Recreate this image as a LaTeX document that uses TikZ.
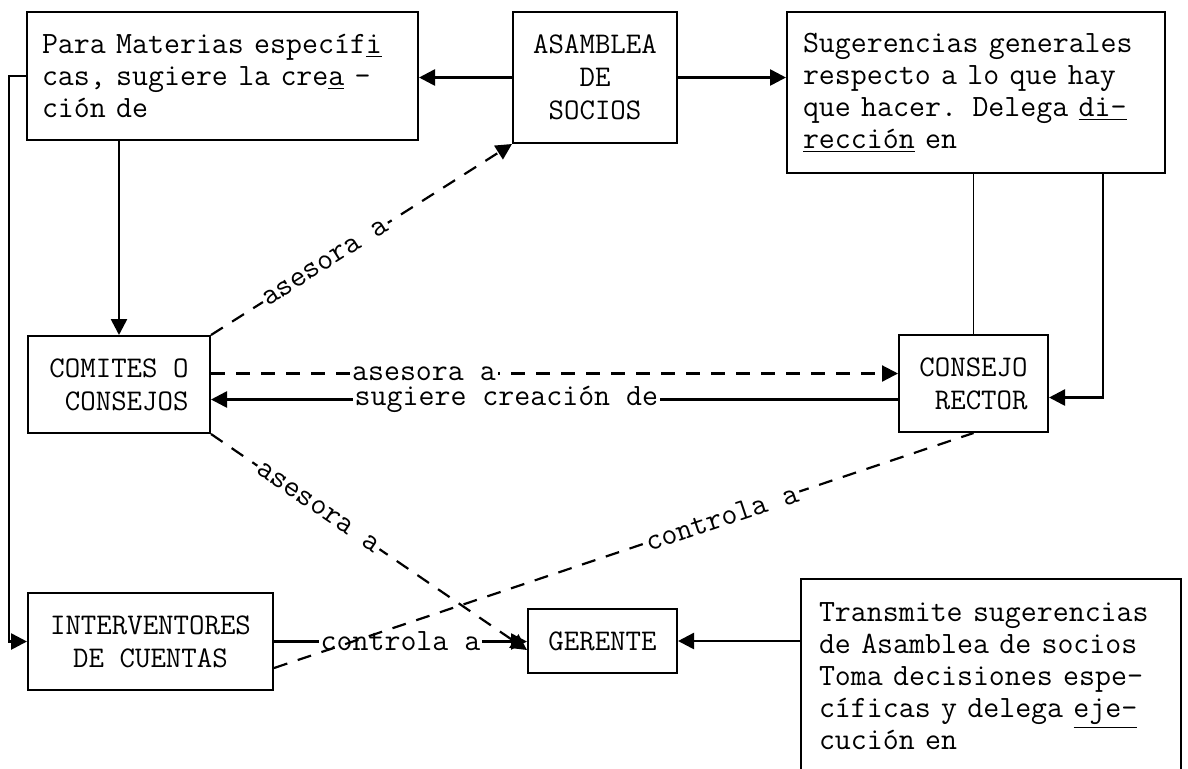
\documentclass[tikz,border=0pt]{standalone}
\usepackage{fontspec}
\usetikzlibrary{arrows.meta}

\begin{document}
\begin{tikzpicture}[x=0.5pt, y=-0.5pt]

        \def\d{7.5pt}

        % Boxes, arrows and the texts on the connectors
        \tikzset{
            caja/.style={draw, line width=1pt, inner sep=0pt,
                font=\ttfamily\fontsize{15}{16.5}\selectfont},
            texto/.style={caja, align=left, inner xsep=\d,
                font=\ttfamily\fontsize{15.5}{16}\selectfont},
            punta/.style={-{Triangle[length=8pt,width=8pt]}},
            flecha/.style={punta, line width=1.3pt},
            punteada/.style={line width=1.1pt, dash pattern=on 7pt off 5.5pt},
            etiqueta/.style={fill=white, inner sep=1pt,
                font=\ttfamily\fontsize{15.5}{16}\selectfont}
        }

        \useasboundingbox (0,0) rectangle (1188,768);
        \clip (0,0) rectangle (1188,768);

        % The boxes
        \begin{scope}
            \node[texto, text width=180.5pt, minimum height=64pt] (PM) at (222.5,76)
            {Para Materias específ\underline{i}\\
             cas, sugiere la cre\underline{a} -\\
             ción de};
            \node[caja, align=center, minimum width=82pt, minimum height=65.5pt] (AS) at (595,77.5)
            {ASAMBLEA\\DE\\SOCIOS};
            \node[texto, text width=173pt, inner xsep=8pt, minimum height=80.5pt] (SG) at (976,92.5)
            {Sugerencias generales\\
             respecto a lo que hay\\
             que hacer. Delega \underline{di-}\\
             \underline{rección} en};
            \node[caja, align=right, minimum width=91pt, minimum height=48.5pt] (CC) at (119,384.5)
            {COMITES O\\CONSEJOS};
            \node[caja, align=right, minimum width=74.5pt, minimum height=48.5pt] (CR) at (973.5,383.5)
            {CONSEJO\\RECTOR};
            \node[caja, align=center, minimum width=122.5pt, minimum height=48.5pt] (IC) at (150.5,641.5)
            {INTERVENTORES\\DE CUENTAS};
            \node[caja, minimum width=74.5pt, minimum height=32pt] (GR) at (602.5,641)
            {GERENTE};
            \node[texto, anchor=north west, text width=172pt, inner xsep=9pt, inner ysep=12pt] (TS) at (800,578)
            {Transmite sugerencias\\
             de Asamblea de socios\\
             Toma decisiones espe-\\
             cíficas y delega \underline{eje-}\\
             cución en\\[40pt]\mbox{}};
        \end{scope}

        % Solid connectors
        \begin{scope}
            \draw[flecha] (AS.west) -- (AS.west -| PM.east);
            \draw[flecha] (AS.east) -- (AS.east -| SG.west);
            \draw[flecha] (PM.south -| CC.north) -- (CC.north);
            \draw[flecha] (PM.west) -- ++(-17,0) |- (IC.west);
            \draw[line width=0.6pt] (CR.north |- SG.south) -- (CR.north);
            \draw[flecha] (SG.south -| 1103,0) |- ([yshift=-7pt]CR.east);
            \draw[flecha] ([yshift=-8pt]CR.west) -- ([yshift=-8pt]CR.west -| CC.east)
                node[etiqueta, pos=0.57] {sugiere creación de};
            \draw[flecha] (IC.east) -- (IC.east -| GR.west)
                node[etiqueta, pos=0.5] {controla a};
            \draw[flecha] (GR.east -| TS.west) -- (GR.east);
        \end{scope}

        % Dashed connectors
        \begin{scope}[punteada]
            \draw[punta] (CC.north east) -- (AS.south west)
                node[etiqueta, sloped, pos=0.38] {asesora a};
            \draw[punta] ([yshift=5.5pt]CC.east) -- ([yshift=5.5pt]CC.east -| CR.west)
                node[etiqueta, pos=0.31] {asesora a};
            \draw[punta] (CC.south east) -- ([yshift=-4.5pt]GR.west)
                node[etiqueta, sloped, pos=0.34] {asesora a};
            \draw ([yshift=-13.25pt]IC.east) -- (CR.south)
                node[etiqueta, sloped, pos=0.64] {controla a};
        \end{scope}

\end{tikzpicture}
\end{document}
